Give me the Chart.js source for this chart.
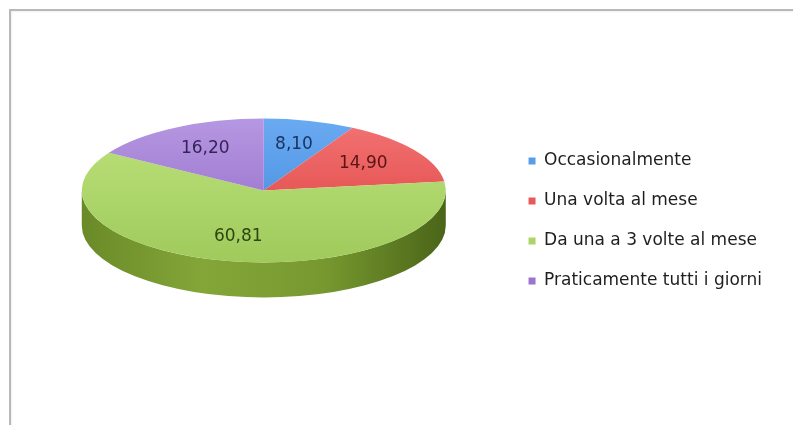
<!DOCTYPE html>
<html>
<head>
<meta charset="utf-8">
<script src="https://cdn.jsdelivr.net/npm/chart.js@4/dist/chart.umd.min.js"></script>
<style>
  html, body { margin: 0; background: #fff; overflow: hidden; }
  #frame {
    position: absolute; left: 9px; top: 9px; width: 800px; height: 430px;
    border-top: 2px solid #b8b8b8; border-left: 2px solid #b8b8b8;
    box-shadow: inset 1px 1px 2px rgba(0,0,0,0.06);
  }
  #wrap { position: absolute; left: 0; top: 0; width: 793px; height: 425px; }
</style>
</head>
<body>
<div id="frame"></div>
<div id="wrap"><canvas id="pieChart"></canvas></div>
<script>
const categories = ['Occasionalmente', 'Una volta al mese', 'Da una a 3 volte al mese', 'Praticamente tutti i giorni'];
const shares = [8.10, 14.90, 60.81, 16.20];

// top face shading, light at the back, darker toward the front
const topLight = ['#6aaaf2', '#f37474', '#bce37c', '#b697e2'];
const topDark  = ['#3d86d8', '#dc3c3c', '#a0ca5c', '#8e66c4'];
// the rim, left to right
const sideShade = [
  ['#2c66a8', '#4a88cc', '#24538a'],
  ['#a82828', '#c84444', '#8a2020'],
  ['#6a8a28', '#84a638', '#77982f', '#4a6518'],
  ['#5e3f8c', '#7658a8', '#4c3274']
];
const labelInk = ['#1b3460', '#5a1414', '#2d4510', '#33245a'];

function fmt(v) {
  return v.toFixed(2).replace('.', ',');
}

// squashes the pie into an ellipse, adds a rim underneath and writes the values
const pie3d = {
  id: 'pie3d',
  beforeDatasetsDraw(chart, args, opts) {
    const arcs = chart.getDatasetMeta(0).data;
    if (!arcs.length) return;
    const { x, y, outerRadius: r } = arcs[0];
    const ry = r * opts.tilt;
    const top = y - opts.depth / 2;
    const ctx = chart.ctx;

    ctx.save();
    arcs.forEach((arc, i) => {
      const s = Math.max(arc.startAngle, 0);
      const e = Math.min(arc.endAngle, Math.PI);
      if (e <= s) return;
      const g = ctx.createLinearGradient(x - r, 0, x + r, 0);
      sideShade[i].forEach((c, k, arr) => g.addColorStop(k / (arr.length - 1), c));
      ctx.beginPath();
      ctx.ellipse(x, top, r, ry, 0, s, e);
      ctx.ellipse(x, top + opts.depth, r, ry, 0, e, s, true);
      ctx.closePath();
      ctx.fillStyle = g;
      ctx.fill();
    });
    ctx.restore();

    ctx.save();
    ctx.translate(x, top);
    ctx.scale(1, opts.tilt);
    ctx.translate(-x, -y);
  },
  afterDatasetsDraw(chart, args, opts) {
    const ctx = chart.ctx;
    ctx.restore();
    const arcs = chart.getDatasetMeta(0).data;
    if (!arcs.length) return;
    const { x, y, outerRadius: r } = arcs[0];
    const ry = r * opts.tilt;
    const top = y - opts.depth / 2;
    ctx.save();
    ctx.font = '17px "DejaVu Sans"';
    ctx.textAlign = 'center';
    ctx.textBaseline = 'middle';
    arcs.forEach((arc, i) => {
      const mid = (arc.startAngle + arc.endAngle) / 2;
      const lx = x + Math.cos(mid) * r * opts.labelAt;
      const ly = top + Math.sin(mid) * ry * opts.labelAt;
      ctx.fillStyle = labelInk[i];
      ctx.fillText(fmt(shares[i]), lx, ly);
    });
    ctx.restore();
  }
};

new Chart(document.getElementById('pieChart'), {
  type: 'pie',
  data: {
    labels: categories,
    datasets: [{
      data: shares,
      borderWidth: 0,
      hoverOffset: 0,
      clip: false,
      backgroundColor: (c) => {
        const area = c.chart.chartArea;
        const i = c.dataIndex;
        if (!area) return topDark[i];
        const g = c.chart.ctx.createLinearGradient(0, area.top, 0, area.bottom);
        g.addColorStop(0, topLight[i]);
        g.addColorStop(1, topDark[i]);
        return g;
      }
    }]
  },
  options: {
    responsive: true,
    maintainAspectRatio: false,
    animation: false,
    layout: { padding: { top: 26, bottom: 35, left: 22, right: 21 } },
    plugins: {
      tooltip: { enabled: false },
      legend: {
        position: 'right',
        title: { display: true, text: '', padding: 0, font: { size: 20, lineHeight: 1.3 } },
        labels: {
          boxWidth: 7,
          boxHeight: 7,
          padding: 23,
          color: '#1e1e1e',
          font: { family: '"DejaVu Sans"', size: 17 }
        }
      },
      pie3d: { tilt: 0.395, depth: 35, labelAt: 0.66 }
    }
  },
  plugins: [pie3d]
});
</script>
</body>
</html>
